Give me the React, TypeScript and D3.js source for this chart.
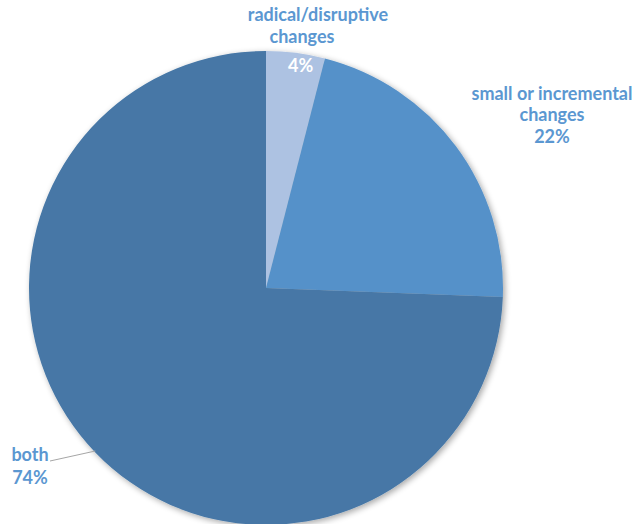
import React from "react";
import * as d3 from "d3";

const categories = ["radical/disruptive changes", "small or incremental changes", "both"];
const values = [4.0, 21.6, 74.4];
const colors = ["#adc2e2", "#5591c9", "#4677a6"];

const W = 633, H = 524;
const cx = 266, cy = 288, R = 237;
const labelColor = "#5b97d1";
const font = "Lato, 'Open Sans', sans-serif";

export default function App() {
  const pie = d3.pie<number>().sort(null).value((d) => d);
  const arcs = pie(values);
  const arc = d3.arc<d3.PieArcDatum<number>>().innerRadius(0).outerRadius(R);
  const a0 = arcs[0];
  const mid0 = (a0.startAngle + a0.endAngle) / 2;
  const pct0 = [Math.sin(mid0) * 220, -Math.cos(mid0) * 220];
  const leadAng = 3.95;
  const leadPt = [Math.sin(leadAng) * (R - 1), -Math.cos(leadAng) * (R - 1)];
  const fmt = (v: number) => `${Math.round(v)}%`;
  return (
    <svg width={W} height={H} style={{ position: "absolute", left: 0, top: 0 }}>
      <defs>
        <filter id="sh" x="-10%" y="-10%" width="120%" height="120%">
          <feGaussianBlur in="SourceAlpha" stdDeviation="3" />
          <feOffset dx="2" dy="2" result="b" />
          <feComponentTransfer><feFuncA type="linear" slope="0.35" /></feComponentTransfer>
          <feMerge><feMergeNode /><feMergeNode in="SourceGraphic" /></feMerge>
        </filter>
      </defs>
      <rect width={W} height={H} fill="#fff" />
      <g transform={`translate(${cx},${cy})`} filter="url(#sh)">
        {arcs.map((a, i) => (
          <path key={categories[i]} d={arc(a) || ""} fill={colors[i]} />
        ))}
      </g>
      <g fontFamily={font} fontWeight="bold" fontSize={18} textAnchor="middle" fill={labelColor}>
        <text x={318} y={21}>radical/disruptive</text>
        <text x={302} y={43}>changes</text>
        <text x={cx + pct0[0] + 7} y={cy + pct0[1] + 2} fill="#fff">{fmt(values[0])}</text>
        <text x={552} y={100}>small or incremental</text>
        <text x={552} y={121}>changes</text>
        <text x={552} y={143}>{fmt(values[1])}</text>
        <text x={30} y={461}>both</text>
        <text x={30} y={484}>{fmt(values[2])}</text>
      </g>
      <path d={`M50,461 L${cx + leadPt[0]},${cy + leadPt[1]}`} stroke="#a6a6a6" strokeWidth={1} fill="none" />
    </svg>
  );
}
